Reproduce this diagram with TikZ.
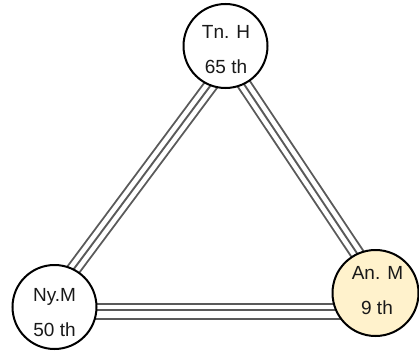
\documentclass[tikz,border=0pt]{standalone}
\usepackage{fontspec}
\setmainfont{Liberation Sans}
\usetikzlibrary{calc}
\definecolor{wiregray}{HTML}{5A5A5A}
\definecolor{notefill}{HTML}{FFF2CC}
\pgfdeclarelayer{paper}
\pgfdeclarelayer{wires}
\pgfsetlayers{paper,wires,main}
\tikzset{
  person/.style={circle, draw=black, line width=2pt, fill=white,
                 minimum size=84pt, inner sep=0pt},
  tag/.style={font=\fontsize{19}{19}\selectfont, text=black!90,
              inner sep=0pt, anchor=base},
  wire/.style={draw=wiregray, line width=1.9pt},
  wirebed/.style={draw=wiregray, line width=15pt},
  wiregap/.style={draw=white, line width=11.2pt}
}
% three parallel strands between two border points, ends tucked under the circles
\newcommand\tripleline[2]{%
  \draw[wirebed] ($(#1)!-12pt!(#2)$) -- ($(#2)!-12pt!(#1)$);
  \draw[wiregap] ($(#1)!-14pt!(#2)$) -- ($(#2)!-14pt!(#1)$);
  \draw[wire]    ($(#1)!-12pt!(#2)$) -- ($(#2)!-12pt!(#1)$);
}
\begin{document}
\begin{tikzpicture}[x=1pt,y=-1pt]
  \useasboundingbox (0,0) rectangle (419,350);
  \begin{pgfonlayer}{paper}
    \fill[white] (0,0) rectangle (419,350);
  \end{pgfonlayer}

  % people
  \node[person] (T) at (225.5,46) {};
  \node[person] (N) at (54.5,307) {};
  \node[person, fill=notefill, minimum size=86pt] (A) at (375.5,293) {};

  % names and ranks
  \node[tag] (Tname) at (226,38.5) {Tn. H};
  \node[tag] (Trank) at (226,73.5) {65 th};
  \node[tag] (Nname) at (54.5,301.7) {Ny.M};
  \node[tag] (Nrank) at (54.5,336) {50 th};
  \node[tag] (Aname) at (377.5,279) {An. M};
  \node[tag] (Arank) at (377,314) {9 th};

  % links
  \begin{pgfonlayer}{wires}
    \tripleline{T.249}{N.63}
    \tripleline{T.296}{A.115}
    \draw[wire] (N |- N.4)   -- (A |- N.4);
    \draw[wire] (N |- N.356) -- (A |- N.356);
    \draw[wire] (N |- N.344) -- (A |- N.344);
  \end{pgfonlayer}
\end{tikzpicture}
\end{document}
